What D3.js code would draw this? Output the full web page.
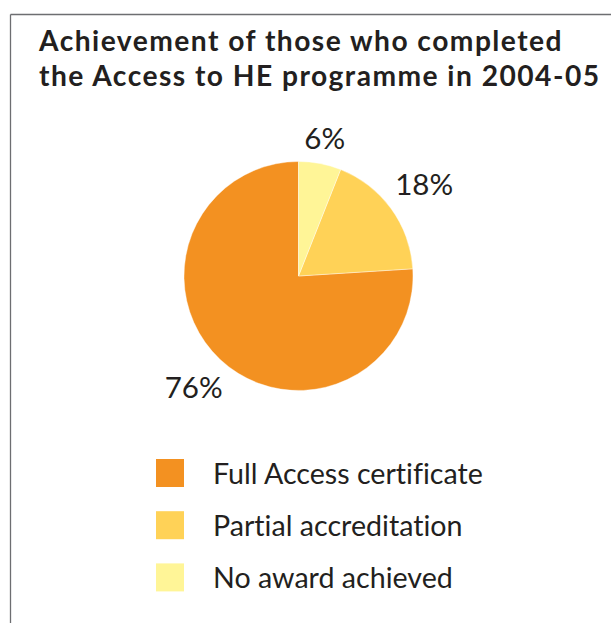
<!DOCTYPE html>
<html>
<head>
<meta charset="utf-8">
<script src="https://cdn.jsdelivr.net/npm/d3@7"></script>
<style>
  html, body { margin: 0; padding: 0; background: #ffffff; }
  svg { display: block; }
  text { font-variant-ligatures: none; font-feature-settings: "liga" 0; }
</style>
</head>
<body>
<svg id="chart" width="611" height="623"></svg>
<script>
// ---- Data ----
const titleLines = ["Achievement of those who completed", "the Access to HE programme in 2004-05"];
const categories = ["Full Access certificate", "Partial accreditation", "No award achieved"];
const values = [76, 18, 6];
const colors = ["#F39121", "#FFD257", "#FFF597"];

// ---- Setup ----
const W = 611, H = 623;
const svg = d3.select("#chart");
const textColor = "#231f20";
const fontFamily = "Lato, 'Open Sans', 'DejaVu Sans', sans-serif";

function fitFont(sel, refNode, targetWidth, startSize) {
  sel.attr("font-size", startSize);
  const w = refNode.getComputedTextLength();
  const size = startSize * targetWidth / w;
  sel.attr("font-size", size);
  return size;
}

// ---- Frame ----
svg.append("line")
  .attr("x1", 10.5).attr("y1", 14.5).attr("x2", W).attr("y2", 14.5)
  .attr("stroke", "#6d6e71").attr("stroke-width", 1.3);
svg.append("line")
  .attr("x1", 10.5).attr("y1", 14.5).attr("x2", 10.5).attr("y2", H)
  .attr("stroke", "#6d6e71").attr("stroke-width", 1.3);

// ---- Title (one text, two lines) ----
const titleText = svg.append("text")
  .attr("font-family", fontFamily)
  .attr("font-weight", "bold")
  .attr("fill", textColor)
  .attr("font-size", 28.2);
const tspans = titleText.selectAll("tspan").data(titleLines).join("tspan")
  .attr("x", 39)
  .attr("y", (d, i) => 51 + i * 34.5)
  .text(d => d);
const tw = tspans.nodes()[0].getComputedTextLength();
const spacing = Math.max(0, (524 - tw) / titleLines[0].length);
titleText.attr("letter-spacing", spacing);

// ---- Pie ----
const cx = 298.5, cy = 276, radius = 114.5;
const pieData = categories.map((c, i) => ({ category: c, value: values[i], color: colors[i] }));
const pie = d3.pie().value(d => d.value).sort((a, b) => a.value - b.value);
const arcs = pie(pieData);
const arc = d3.arc().innerRadius(0).outerRadius(radius);

const pg = svg.append("g").attr("transform", `translate(${cx},${cy})`);
pg.selectAll("path").data(arcs).join("path")
  .attr("d", arc)
  .attr("fill", d => d.data.color)
  .attr("stroke", "#ffffff")
  .attr("stroke-width", 0.4);

const labels = pg.selectAll("text.lbl").data(arcs).join("text")
  .attr("class", "lbl")
  .attr("text-anchor", "middle")
  .attr("font-family", fontFamily)
  .attr("fill", textColor)
  .text(d => d.data.value + "%");
fitFont(labels, labels.filter(d => d.data.value === 18).node(), 58, 28);

// Place each label so that its box sits a fixed gap outside the pie, along the slice's mid-angle
const labelGap = 126;
labels.each(function(d) {
  const bb = this.getBBox();
  const a = (d.startAngle + d.endAngle) / 2;
  const sx = Math.sin(a), cy_ = -Math.cos(a);
  const half = (bb.width / 2) * Math.abs(sx) + 10 * Math.abs(cy_);
  const r = labelGap + half;
  d3.select(this).attr("x", r * sx).attr("y", r * cy_).attr("dy", "0.36em");
});

// ---- Legend ----
const lg = svg.append("g");
const ly = d3.scaleBand().domain(categories).range([459, 459 + 3 * 52.2]);
const items = lg.selectAll("g").data(pieData).join("g")
  .attr("transform", d => `translate(156,${ly(d.category)})`);
items.append("rect")
  .attr("width", 28).attr("height", 28)
  .attr("fill", d => d.color);
const ltexts = items.append("text")
  .attr("x", 57).attr("y", 24.5)
  .attr("font-family", fontFamily)
  .attr("fill", textColor)
  .text(d => d.category);
fitFont(ltexts, ltexts.nodes()[0], 270, 28);
</script>
</body>
</html>
